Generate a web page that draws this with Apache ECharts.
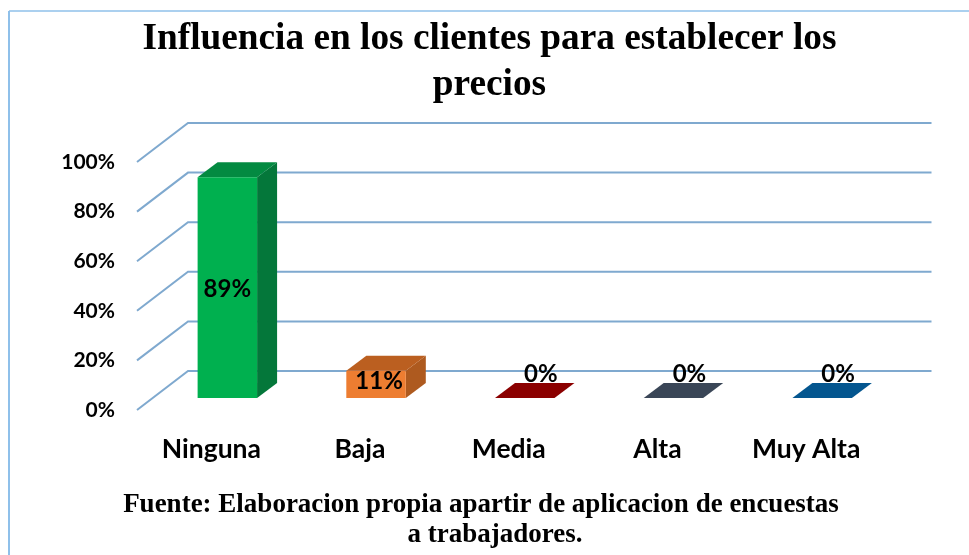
<!DOCTYPE html>
<html><head><meta charset="utf-8">
<style>html,body{margin:0;padding:0;background:#fff}#c{width:969px;height:555px}</style>
<script src="https://cdn.jsdelivr.net/npm/echarts@6/dist/echarts.min.js"></script>
</head><body><div id="c"></div>
<script>
const categories = ['Ninguna', 'Baja', 'Media', 'Alta', 'Muy Alta'];
const values = [89, 11, 0, 0, 0];
const yTicks = [0, 20, 40, 60, 80, 100];
const frontColors = ['#00b04f', '#ed7d31', '#8b0000', '#3a4657', '#04568f'];
const topColors = ['#038a41', '#bb5f20', '#8b0000', '#3a4657', '#04568f'];
const sideColors = ['#04773a', '#ae5a1f', '#8b0000', '#3a4657', '#04568f'];
const titleLines = 'Influencia en los clientes para establecer los\nprecios';
const sourceLine1 = 'Fuente: Elaboracion propia apartir de aplicacion de encuestas';
const sourceLine2 = 'a trabajadores.';

const WALL = [51, -39], BASE = [16, -12], DEPTH = [20, -15];
const SANS = 'Lato, Carlito, sans-serif', SERIF = '"Liberation Serif", serif';

const chart = echarts.init(document.getElementById('c'), null, {renderer: 'canvas'});
chart.setOption({
  backgroundColor: '#fff',
  animation: false,
  title: [
    {text: titleLines, left: 484.5, top: 11, textAlign: 'center',
     textStyle: {fontFamily: SERIF, fontWeight: 'bold', fontSize: 37.3, lineHeight: 46, color: '#000'}},
    {text: sourceLine1, left: 476, top: 485, textAlign: 'center',
     textStyle: {fontFamily: SERIF, fontWeight: 'bold', fontSize: 27, lineHeight: 30, color: '#000'}},
    {text: sourceLine2, left: 490, top: 515, textAlign: 'center',
     textStyle: {fontFamily: SERIF, fontWeight: 'bold', fontSize: 27, lineHeight: 30, color: '#000'}}
  ],
  graphic: [
    {type: 'line', silent: true, shape: {x1: 9, y1: 11, x2: 969, y2: 11}, style: {stroke: '#8fc0ea', lineWidth: 1.5}},
    {type: 'line', silent: true, shape: {x1: 9, y1: 11, x2: 9, y2: 555}, style: {stroke: '#8fc0ea', lineWidth: 2}}
  ],
  grid: {left: 137, top: 162, width: 743.5, height: 248, containLabel: false},
  xAxis: {
    type: 'category', data: categories,
    axisLine: {show: false}, axisTick: {show: false},
    axisLabel: {margin: 26, color: '#000', fontFamily: SANS, fontWeight: 'bold', fontSize: 26.5}
  },
  yAxis: {
    type: 'value', min: 0, max: 100, interval: 20,
    axisLine: {show: false}, axisTick: {show: false}, splitLine: {show: false},
    axisLabel: {margin: 22, color: '#000', fontFamily: SANS, fontWeight: 'bold', fontSize: 21, padding: [8, 0, 0, 0], formatter: '{value}%'}
  },
  series: [
    {
      type: 'custom', silent: true, z: 1,
      data: yTicks.map(v => [0, v]),
      encode: {x: 0, y: 1},
      renderItem(params, api) {
        const y = api.coord([0, api.value(1)])[1];
        const x0 = params.coordSys.x, x1 = x0 + params.coordSys.width;
        return {type: 'polyline', shape: {points: [
          [x0, y], [x0 + WALL[0], y + WALL[1]], [x1 + WALL[0], y + WALL[1]]
        ]}, style: {fill: null, stroke: '#7fa9cf', lineWidth: 2}};
      }
    },
    {
      type: 'custom', silent: true, z: 2,
      data: values.map((v, i) => [i, v]),
      encode: {x: 0, y: 1},
      renderItem(params, api) {
        const i = api.value(0), v = api.value(1);
        const w = api.size([1, 0])[0] * 0.4;
        const b = api.coord([i, 0]), t = api.coord([i, v]);
        const xl = b[0] - w / 2 + BASE[0], xr = xl + w;
        const yb = b[1] + BASE[1], yt = t[1] + BASE[1];
        const dx = DEPTH[0], dy = DEPTH[1];
        const children = [
          {type: 'polygon', shape: {points: [[xr, yb], [xr + dx, yb + dy], [xr + dx, yt + dy], [xr, yt]]},
           style: {fill: sideColors[i]}},
          {type: 'polygon', shape: {points: [[xl, yt], [xr, yt], [xr + dx, yt + dy], [xl + dx, yt + dy]]},
           style: {fill: topColors[i]}},
          {type: 'rect', shape: {x: xl, y: yt, width: w, height: yb - yt}, style: {fill: frontColors[i]}}
        ];
        const zero = v === 0;
        children.push({type: 'text', z2: 10, style: {
          text: v + '%',
          x: zero ? xl + w / 2 + 16 : xl + w / 2 + (v < 20 ? 3 : 0),
          y: zero ? yb - 24 : (yt + yb) / 2 + (v < 20 ? -3 : 2),
          align: 'center', verticalAlign: 'middle',
          fill: '#000', font: 'bold 24px ' + SANS
        }});
        return {type: 'group', children};
      }
    }
  ]
});
</script></body></html>
